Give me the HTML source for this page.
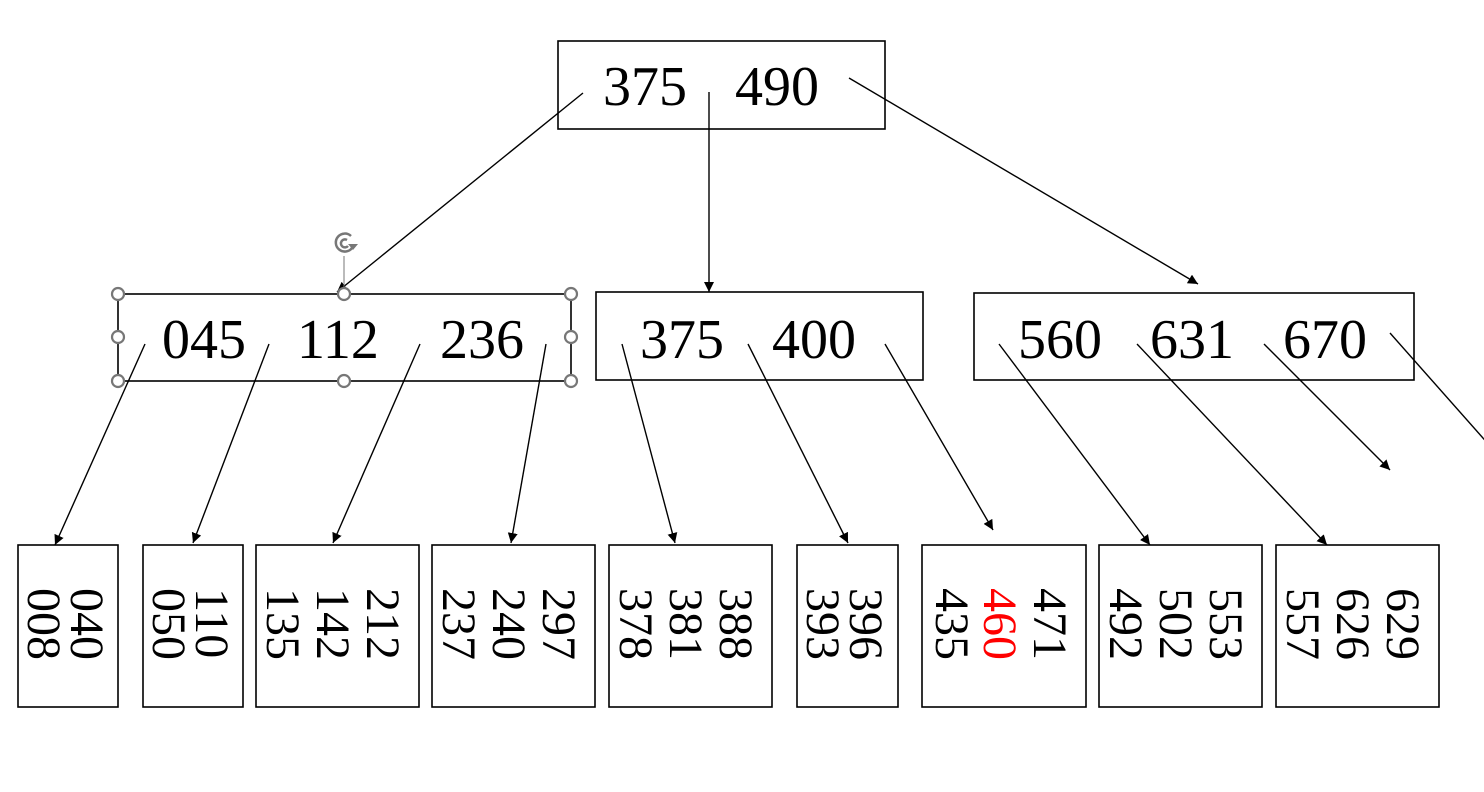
<!DOCTYPE html>
<html><head><meta charset="utf-8"><style>
html,body{margin:0;padding:0;background:#fff;}
svg{display:block;}
text{font-family:"Liberation Serif",serif;fill:#000;}
</style></head><body>
<svg width="1484" height="792" viewBox="0 0 1484 792" xmlns="http://www.w3.org/2000/svg">
<defs>
<marker id="a" viewBox="0 0 10 10" refX="10" refY="5" markerWidth="10" markerHeight="10" markerUnits="userSpaceOnUse" orient="auto">
<path d="M0,0 L10,5 L0,10 z" fill="#000"/></marker>
</defs>
<g fill="none" stroke="#000" stroke-width="1.6">
<rect x="558" y="41" width="327" height="88"/>
<rect x="118" y="294" width="453" height="87"/>
<rect x="596" y="292" width="327" height="88"/>
<rect x="974" y="293" width="440" height="87"/>
<rect x="18" y="545" width="100" height="162"/>
<rect x="143" y="545" width="100" height="162"/>
<rect x="256" y="545" width="163" height="162"/>
<rect x="432" y="545" width="163" height="162"/>
<rect x="609" y="545" width="163" height="162"/>
<rect x="797" y="545" width="101" height="162"/>
<rect x="922" y="545" width="164" height="162"/>
<rect x="1099" y="545" width="163" height="162"/>
<rect x="1276" y="545" width="163" height="162"/>
</g>
<g stroke="#000" stroke-width="1.4" marker-end="url(#a)">
<line x1="583" y1="93" x2="337" y2="292"/>
<line x1="709" y1="92" x2="709" y2="292"/>
<line x1="849" y1="78" x2="1198" y2="284"/>
<line x1="145" y1="344" x2="55" y2="545"/>
<line x1="269" y1="344" x2="193" y2="543"/>
<line x1="420" y1="344" x2="333" y2="543"/>
<line x1="546" y1="344" x2="511" y2="543"/>
<line x1="622" y1="344" x2="675" y2="543"/>
<line x1="748" y1="344" x2="848" y2="543"/>
<line x1="885" y1="344" x2="993" y2="530"/>
<line x1="999" y1="344" x2="1150" y2="545"/>
<line x1="1137" y1="344" x2="1327" y2="545"/>
<line x1="1264" y1="344" x2="1390" y2="470"/>
</g>
<line x1="1390" y1="333" x2="1490" y2="446" stroke="#000" stroke-width="1.4"/>
<g font-size="56">
<text x="603" y="105">375</text><text x="735" y="105">490</text>
<text x="162" y="358">045</text><text x="297" y="358">112</text><text x="440" y="358">236</text>
<text x="640" y="358">375</text><text x="772" y="358">400</text>
<text x="1018" y="358">560</text><text x="1150" y="358">631</text><text x="1283" y="358">670</text>
</g>
<g font-size="48">
<text transform="translate(71,588) rotate(90)">040</text>
<text transform="translate(28,588) rotate(90)">008</text>
<text transform="translate(196,588) rotate(90)">110</text>
<text transform="translate(153,588) rotate(90)">050</text>
<text transform="translate(367,588) rotate(90)">212</text>
<text transform="translate(317,588) rotate(90)">142</text>
<text transform="translate(267,588) rotate(90)">135</text>
<text transform="translate(543,588) rotate(90)">297</text>
<text transform="translate(493,588) rotate(90)">240</text>
<text transform="translate(443,588) rotate(90)">237</text>
<text transform="translate(720,588) rotate(90)">388</text>
<text transform="translate(670,588) rotate(90)">381</text>
<text transform="translate(620,588) rotate(90)">378</text>
<text transform="translate(850,588) rotate(90)">396</text>
<text transform="translate(807,588) rotate(90)">393</text>
<text transform="translate(1034,588) rotate(90)">471</text>
<text transform="translate(984,588) rotate(90)" style="fill:#f00">460</text>
<text transform="translate(936,588) rotate(90)">435</text>
<text transform="translate(1210,588) rotate(90)">553</text>
<text transform="translate(1160,588) rotate(90)">502</text>
<text transform="translate(1110,588) rotate(90)">492</text>
<text transform="translate(1387,588) rotate(90)">629</text>
<text transform="translate(1337,588) rotate(90)">626</text>
<text transform="translate(1287,588) rotate(90)">557</text>
</g>
<line x1="344" y1="256" x2="344" y2="288" stroke="#777" stroke-width="1"/>
<g fill="#fff" stroke="#777" stroke-width="2.2">
<circle cx="118" cy="294" r="6"/><circle cx="344" cy="294" r="6"/><circle cx="571" cy="294" r="6"/>
<circle cx="118" cy="337" r="6"/><circle cx="571" cy="337" r="6"/>
<circle cx="118" cy="381" r="6"/><circle cx="344" cy="381" r="6"/><circle cx="571" cy="381" r="6"/>
</g>
<g fill="none" stroke="#777" stroke-width="2.5">
<path d="M351,236 A9,9 0 1 0 352,248"/>
<path d="M347,240 A4,4 0 1 0 348,246"/>
</g>
<path d="M348,244 L358,244 L353,250 z" fill="#777"/>
</svg>
</body></html>
